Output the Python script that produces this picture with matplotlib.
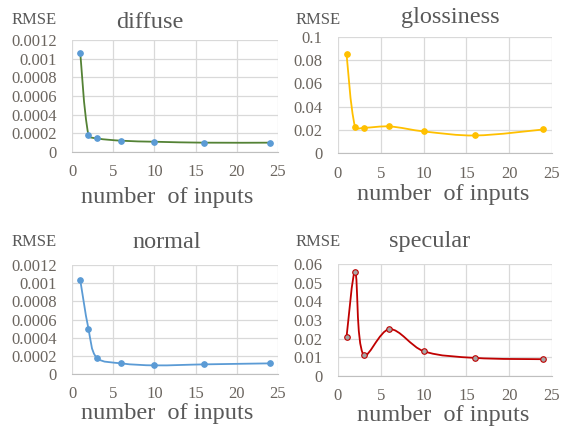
import matplotlib
matplotlib.use("Agg")
import matplotlib.pyplot as plt
from matplotlib.path import Path
from matplotlib.patches import PathPatch
from matplotlib.ticker import FuncFormatter, MultipleLocator

plt.rcParams['font.family'] = ['Liberation Serif', 'DejaVu Serif']

n_inputs = [1, 2, 3, 6, 10, 16, 24]
diffuse = [0.001065, 0.000178, 0.000146, 0.000121, 0.000110, 0.000100, 0.000100]
glossiness = [0.0851, 0.0220, 0.0217, 0.0229, 0.0186, 0.0151, 0.0203]
normal = [0.001035, 0.000498, 0.000179, 0.000117, 0.000095, 0.000106, 0.000117]
specular = [0.0210, 0.0557, 0.0110, 0.0251, 0.0133, 0.0097, 0.0090]

W, H = 561, 430
TICK_C = '#6b655f'
TEXT_C = '#595959'
GRID_C = '#d9d9d9'


def smooth_path(xs, ys, sx, sy):
    # excel-like smoothed line, tangents worked out in pixel space
    pts = [(x * sx, y * sy) for x, y in zip(xs, ys)]
    n = len(pts)

    def dist(a, b):
        return ((a[0] - b[0]) ** 2 + (a[1] - b[1]) ** 2) ** 0.5

    verts = [pts[0]]
    codes = [Path.MOVETO]
    for i in range(n - 1):
        p0 = pts[max(i - 1, 0)]
        p1 = pts[i]
        p2 = pts[i + 1]
        p3 = pts[min(i + 2, n - 1)]
        d01, d12, d23 = dist(p0, p1), dist(p1, p2), dist(p2, p3)
        k1 = d12 / (d01 + d12) / 3 if d01 + d12 > 0 else 0
        k2 = d12 / (d12 + d23) / 3 if d12 + d23 > 0 else 0
        if i == 0:
            k1 = 1 / 6
        if i == n - 2:
            k2 = 1 / 6
        c1 = (p1[0] + (p2[0] - p0[0]) * k1, p1[1] + (p2[1] - p0[1]) * k1)
        c2 = (p2[0] - (p3[0] - p1[0]) * k2, p2[1] - (p3[1] - p1[1]) * k2)
        verts += [c1, c2, p2]
        codes += [Path.CURVE4] * 3
    verts = [(x / sx, y / sy) for x, y in verts]
    return Path(verts, codes)


def fmt(v, pos):
    return '{:g}'.format(round(v, 6))


panels = [
    # name, values, ymax, ystep, line, marker face, axes box px (l, t, r, b), title xy, rmse xy, xlabel xy
    ('diffuse', diffuse, 0.0012, 0.0002, '#548235', '#5b9bd5', (72, 40, 278, 152), (150, 22), (34, 20), (167, 197)),
    ('glossiness', glossiness, 0.1, 0.02, '#ffc000', '#ffc000', (338, 37, 552, 153), (450, 18), (318, 20), (443, 195)),
    ('normal', normal, 0.0012, 0.0002, '#5b9bd5', '#5b9bd5', (72, 265, 278, 374), (167, 242), (34, 242), (167, 413)),
    ('specular', specular, 0.06, 0.01, '#c00000', '#a5a5a5', (338, 264, 552, 376), (430, 242), (318, 242), (443, 415)),
]

fig = plt.figure(figsize=(W / 100, H / 100), dpi=100)

for name, vals, ymax, ystep, lc, mc, box, txy, rxy, lxy in panels:
    l, t, r, b = box
    ax = fig.add_axes([l / W, 1 - b / H, (r - l) / W, (b - t) / H])
    ax.set_xlim(0, 25)
    ax.set_ylim(0, ymax)
    ax.xaxis.set_major_locator(MultipleLocator(5))
    ax.yaxis.set_major_locator(MultipleLocator(ystep))
    ax.yaxis.set_major_formatter(FuncFormatter(fmt))
    ax.grid(True, color=GRID_C, lw=0.9)
    ax.set_axisbelow(True)
    for s in ax.spines.values():
        s.set_visible(False)
    ax.spines['bottom'].set_visible(True)
    ax.spines['bottom'].set_color('#bfbfbf')
    ax.tick_params(length=0, labelsize=12, labelcolor=TICK_C)
    ax.tick_params(axis='y', pad=11)
    ax.tick_params(axis='x', pad=9)

    sx = (r - l) / 25
    sy = (b - t) / ymax
    ax.add_patch(PathPatch(smooth_path(n_inputs, vals, sx, sy), fill=False, ec=lc, lw=1.3, zorder=3))
    ax.plot(n_inputs, vals, 'o', ls='none', ms=4, mfc=mc, mec=lc if name == 'specular' else mc,
            mew=0.8, zorder=4, clip_on=False)

    fig.text(txy[0] / W, 1 - txy[1] / H, name, ha='center', va='center', fontsize=17.5, color=TEXT_C)
    fig.text(rxy[0] / W, 1 - rxy[1] / H, 'RMSE', ha='center', va='center', fontsize=12, color=TEXT_C)
    fig.text(lxy[0] / W, 1 - lxy[1] / H, 'number  of inputs', ha='center', va='center', fontsize=17.5,
             color=TEXT_C)

fig.savefig('out.png', dpi=100, facecolor='white')
